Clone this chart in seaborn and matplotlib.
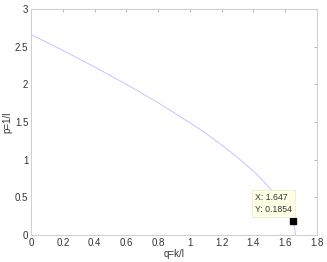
import matplotlib
matplotlib.use("Agg")
import matplotlib.pyplot as plt
import seaborn as sns
import pandas as pd

# curve
q_vals = [0.0, 0.2, 0.4, 0.6, 0.8, 1.0, 1.1, 1.2, 1.3, 1.4, 1.45, 1.5, 1.55,
          1.6, 1.63, 1.647, 1.66, 1.665]
p_vals = [2.66, 2.45, 2.23, 2.00, 1.756, 1.49, 1.35, 1.195, 1.03, 0.848, 0.745,
          0.63, 0.50, 0.35, 0.245, 0.1854, 0.098, 0.0]
tip_q = 1.647
tip_p = 0.1854

df = pd.DataFrame({"q": q_vals, "p": p_vals})

sns.set_style("white")
plt.rcParams['font.family'] = ['Liberation Sans', 'DejaVu Sans']

fig = plt.figure(figsize=(3.27, 2.62), dpi=100)
ax = fig.add_axes([0.095, 0.103, 0.874, 0.863])

sns.lineplot(data=df, x="q", y="p", ax=ax, color="#c4c4ff", linewidth=0.7)

ax.set_xlim(0, 1.8)
ax.set_ylim(0, 3)
ax.set_xticks([0, 0.2, 0.4, 0.6, 0.8, 1, 1.2, 1.4, 1.6, 1.8])
ax.set_xticklabels(["0", "0.2", "0.4", "0.6", "0.8", "1", "1.2", "1.4", "1.6", "1.8"])
ax.set_yticks([0, 0.5, 1, 1.5, 2, 2.5, 3])
ax.set_yticklabels(["0", "0.5", "1", "1.5", "2", "2.5", "3"])
ax.tick_params(direction="in", length=2, width=0.5, color="#999999",
               labelsize=7, labelcolor="#333333", top=True, right=True, pad=2)
for s in ax.spines.values():
    s.set_color("#d0d0d0")
    s.set_linewidth(0.8)

ax.set_xlabel("q=k/l", fontsize=7, color="#333333", labelpad=1)
ax.set_ylabel("p=1/l", fontsize=7, color="#333333", labelpad=2)

# data tip
ax.plot([tip_q], [tip_p], marker="s", color="black", markersize=5)
ax.annotate(f"X: {tip_q}\nY: {tip_p}", xy=(tip_q, tip_p), xytext=(-27, 5),
            textcoords="offset points", fontsize=6.3, color="#333333",
            ha="left", va="bottom", linespacing=1.4,
            bbox=dict(boxstyle="square,pad=0.35", fc="#ffffe6", ec="#e8e8c8", lw=0.5))

fig.savefig("out.png", dpi=100)
